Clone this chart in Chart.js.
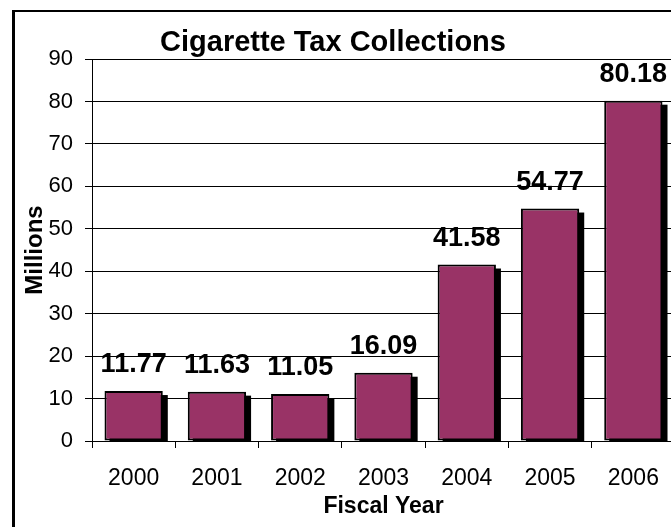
<!DOCTYPE html>
<html>
<head>
<meta charset="utf-8">
<script src="https://cdn.jsdelivr.net/npm/chart.js@4"></script>
<style>
    html, body { margin: 0; padding: 0; background: #fff; overflow: hidden; }
    #wrap { width: 671px; height: 527px; overflow: hidden; }
</style>
</head>
<body>
<div id="wrap"><canvas id="barChart" width="678" height="527"></canvas></div>
<script>
// chart data
const chartTitle = 'Cigarette Tax Collections';
const fiscalYears = ['2000', '2001', '2002', '2003', '2004', '2005', '2006'];
const collections = [11.77, 11.63, 11.05, 16.09, 41.58, 54.77, 80.18];
const yTicks = [0, 10, 20, 30, 40, 50, 60, 70, 80, 90];

const fontFamily = 'Arial, "Liberation Sans", sans-serif';

// outer frame + title
const framePlugin = {
    id: 'frame',
    afterDraw(chart) {
        const ctx = chart.ctx;
        ctx.save();
        ctx.fillStyle = '#000';
        ctx.fillRect(12, 10, 3, chart.height);
        ctx.fillRect(12, 10, chart.width, 2);
        ctx.font = 'bold 29px ' + fontFamily;
        ctx.textAlign = 'center';
        ctx.textBaseline = 'alphabetic';
        ctx.fillText(chartTitle, 333, 51);
        ctx.restore();
    }
};

// black drop shadow behind each bar
const shadowPlugin = {
    id: 'barShadow',
    beforeDatasetsDraw(chart) {
        const ctx = chart.ctx;
        const area = chart.chartArea;
        const meta = chart.getDatasetMeta(0);
        ctx.save();
        ctx.beginPath();
        ctx.rect(area.left, area.top, area.right - area.left, area.bottom - area.top);
        ctx.clip();
        ctx.fillStyle = '#000';
        meta.data.forEach(bar => {
            const p = bar.getProps(['x', 'y', 'width', 'base'], true);
            ctx.fillRect(p.x - p.width / 2 + 5, p.y + 4, p.width, p.base - p.y);
        });
        ctx.restore();
    }
};

// value labels above bars
const valueLabels = {
    id: 'valueLabels',
    afterDatasetsDraw(chart) {
        const ctx = chart.ctx;
        const meta = chart.getDatasetMeta(0);
        ctx.save();
        ctx.font = 'bold 27px ' + fontFamily;
        ctx.fillStyle = '#000';
        ctx.textAlign = 'center';
        ctx.textBaseline = 'alphabetic';
        meta.data.forEach((bar, i) => {
            ctx.fillText(collections[i].toFixed(2), bar.x, bar.y - 19);
        });
        ctx.restore();
    }
};

new Chart(document.getElementById('barChart').getContext('2d'), {
    type: 'bar',
    data: {
        labels: fiscalYears,
        datasets: [{
            data: collections,
            backgroundColor: '#993366',
            borderColor: '#000',
            borderWidth: 2,
            borderSkipped: false,
            barPercentage: 0.7,
            categoryPercentage: 1
        }]
    },
    options: {
        responsive: false,
        animation: false,
        layout: { padding: { left: 15, right: 3, top: 59, bottom: 0 } },
        plugins: {
            legend: { display: false },
            tooltip: { enabled: false }
        },
        scales: {
            x: {
                offset: true,
                grid: { display: true, drawOnChartArea: false, drawTicks: true, tickLength: 7, color: '#000', offset: true },
                border: { display: true, color: '#000', width: 1 },
                ticks: { color: '#000', padding: 17, font: { family: fontFamily, size: 23 } },
                title: {
                    display: true,
                    text: 'Fiscal Year',
                    color: '#000',
                    font: { family: fontFamily, size: 23, weight: 'bold' },
                    padding: { top: 7, bottom: 7 }
                },
                afterFit(scale) { scale.height = 86; }
            },
            y: {
                min: 0,
                max: 90,
                afterBuildTicks(scale) { scale.ticks = yTicks.map(v => ({ value: v })); },
                grid: { color: '#000', tickLength: 7, drawTicks: true },
                border: { display: true, color: '#000', width: 1 },
                ticks: { color: '#000', padding: 12, font: { family: fontFamily, size: 22 } },
                title: {
                    display: true,
                    text: 'Millions',
                    color: '#000',
                    font: { family: fontFamily, size: 24, weight: 'bold' },
                    padding: { top: 6, bottom: 6 }
                },
                afterFit(scale) { scale.width = 77; }
            }
        }
    },
    plugins: [shadowPlugin, valueLabels, framePlugin]
});
</script>
</body>
</html>
